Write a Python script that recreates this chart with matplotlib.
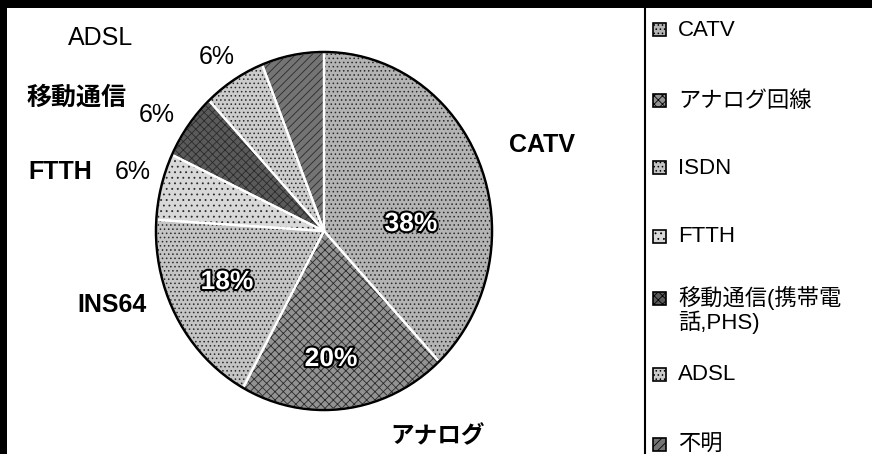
import numpy as np
import matplotlib.pyplot as plt
import matplotlib.patheffects as pe
from matplotlib.patches import Rectangle, Ellipse

plt.rcParams['font.family'] = ['Liberation Sans', 'Noto Sans CJK JP']
plt.rcParams['hatch.linewidth'] = 0.6

# データ
legend_names = ['CATV', 'アナログ回線', 'ISDN', 'FTTH', '移動通信(携帯電\n話,PHS)', 'ADSL', '不明']
pie_names = ['CATV', 'アナログ', 'INS64', 'FTTH', '移動通信', 'ADSL', '']
shares = [38, 20, 18, 6, 6, 6, 6]

# 見た目
fills = ['#b4b4b4', '#929292', '#c4c4c4', '#d8d8d8', '#5a5a5a', '#cccccc', '#747474']
hatches = ['....', 'xxxx', '....', '...', 'xxxx', '....', '////']

W, H = 872, 454
fig = plt.figure(figsize=(W / 100, H / 100), dpi=100)


def fpos(x, y):
    # ピクセル座標 -> figure座標
    return x / W, 1 - y / H


# 円グラフ (少し縦長)
cx, cy, rx, ry = 324, 231, 168, 179
ax = fig.add_axes([(cx - 1.25 * rx) / W, (H - cy - 1.25 * ry) / H, 2.5 * rx / W, 2.5 * ry / H])
wedges, _ = ax.pie(shares, startangle=90, counterclock=False, colors=fills,
                   wedgeprops=dict(edgecolor='#2a2a2a', linewidth=0))
for w, h in zip(wedges, hatches):
    w.set_hatch(h)
ax.pie(shares, startangle=90, counterclock=False, colors=['none'] * len(shares),
       wedgeprops=dict(edgecolor='white', linewidth=1.6))
ax.add_patch(Ellipse((0, 0), 2, 2, fill=False, edgecolor='black', linewidth=1.8))
ax.set_aspect('auto')
ax.set_xlim(-1.25, 1.25)
ax.set_ylim(-1.25, 1.25)

# 外側のラベル
name_pos = [(542, 145, 'center', 'bold', 18), (438, 437, 'center', 'bold', 17),
            (147, 305, 'right', 'bold', 18), (28, 172, 'left', 'bold', 18),
            (27, 98, 'left', 'bold', 18), (68, 38, 'left', 'normal', 18)]
for name, (x, y, ha, wt, fs) in zip(pie_names, name_pos):
    fig.text(*fpos(x, y), name, ha=ha, va='center', fontsize=fs, fontweight=wt)

small_pos = {3: (133, 172), 4: (157, 115), 5: (217, 57)}
for i, (x, y) in small_pos.items():
    fig.text(*fpos(x, y), f'{shares[i]}%', ha='center', va='center', fontsize=18)

# 内側のパーセント
inner_pos = {0: (411, 224), 1: (331, 359), 2: (227, 282)}
for i, (x, y) in inner_pos.items():
    fig.text(*fpos(x, y), f'{shares[i]}%', ha='center', va='center', fontsize=19,
             color='white', fontweight='bold',
             path_effects=[pe.withStroke(linewidth=3, foreground='black')])

# 凡例
leg_y = [30, 101, 168, 237, 299, 375, 445]
for name, col, h, y in zip(legend_names, fills, hatches, leg_y):
    fig.patches.append(Rectangle(fpos(653, y + 6), 13 / W, 13 / H, transform=fig.transFigure,
                                 facecolor=col, edgecolor='black', hatch=h, linewidth=1.2))
    if '\n' in name:
        fig.text(*fpos(678, y - 13), name, ha='left', va='top', fontsize=16, linespacing=1.0)
    else:
        fig.text(*fpos(678, y), name, ha='left', va='center', fontsize=16)

# 枠線
fig.patches.append(Rectangle((0, 1 - 8 / H), 1, 8 / H, transform=fig.transFigure,
                             facecolor='black', edgecolor='none'))
fig.patches.append(Rectangle((0, 0), 7 / W, 1, transform=fig.transFigure,
                             facecolor='black', edgecolor='none'))
fig.add_artist(plt.Line2D([645 / W, 645 / W], [0, 1 - 8 / H], transform=fig.transFigure,
                          color='black', linewidth=1.5))

fig.savefig('out.png', dpi=100)
